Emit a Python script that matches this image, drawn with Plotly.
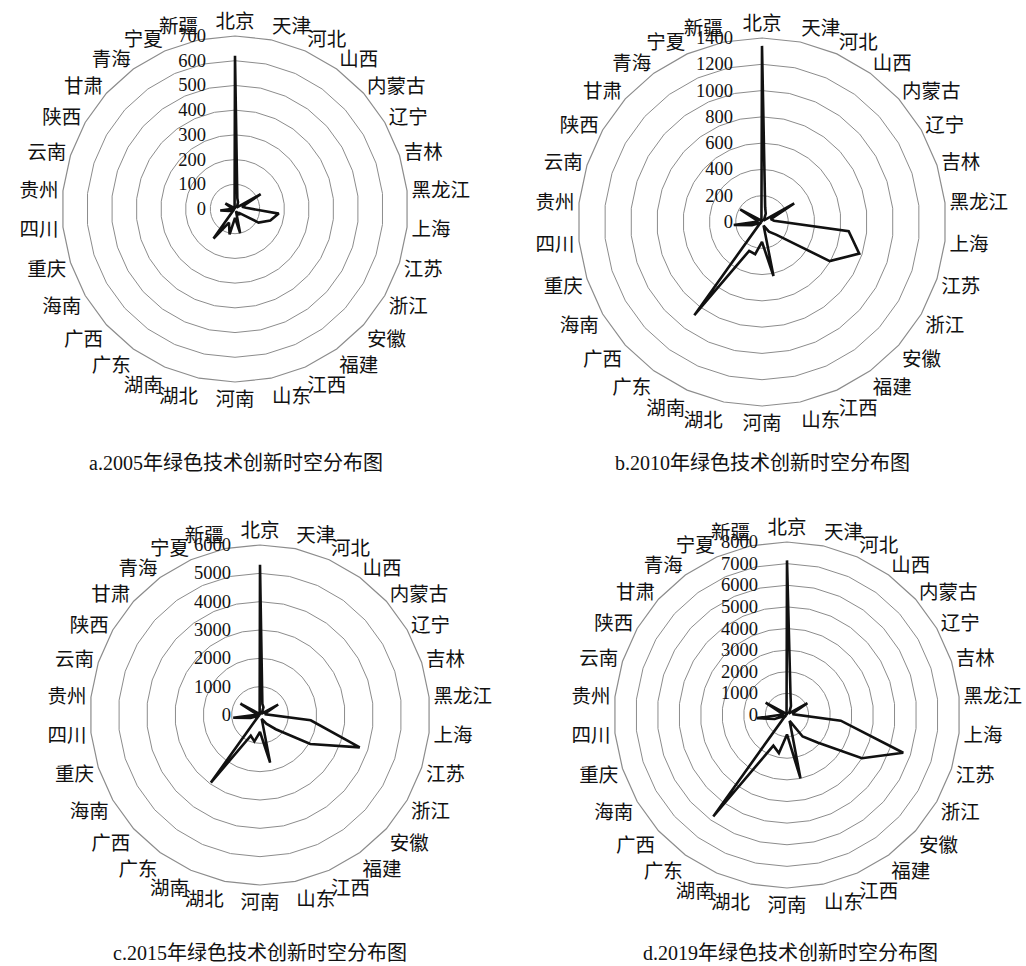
import plotly.graph_objects as go

# Provinces in clockwise order starting at the top
provinces = ["北京", "天津", "河北", "山西", "内蒙古", "辽宁", "吉林", "黑龙江", "上海", "江苏",
             "浙江", "安徽", "福建", "江西", "山东", "河南", "湖北", "湖南", "广东", "广西",
             "海南", "重庆", "四川", "贵州", "云南", "陕西", "甘肃", "青海", "宁夏", "新疆"]

# Green technology innovation counts by province
gti_2005 = [620, 45, 30, 15, 8, 120, 30, 45, 178, 150, 110, 25, 30, 10, 100,
            36, 105, 60, 148, 10, 3, 25, 60, 10, 15, 45, 10, 3, 3, 8]
gti_2010 = [1340, 115, 70, 30, 15, 283, 70, 92, 663, 778, 595, 144, 90, 30, 421,
            152, 250, 240, 876, 30, 8, 80, 216, 30, 40, 192, 30, 5, 5, 20]
gti_2015 = [5300, 400, 300, 120, 60, 740, 200, 200, 1800, 3700, 2050, 750, 380, 150, 1720,
            600, 950, 800, 2950, 100, 30, 350, 950, 100, 150, 800, 100, 20, 20, 60]
gti_2019 = [7150, 800, 450, 200, 100, 1090, 300, 300, 2500, 5650, 4000, 1900, 1230, 300, 3000,
            900, 1800, 1550, 5800, 200, 50, 600, 1400, 200, 250, 1140, 150, 30, 30, 100]

radial_max = [700, 1400, 6000, 8000]
radial_step = [100, 200, 1000, 1000]
captions = ["a.2005年绿色技术创新时空分布图", "b.2010年绿色技术创新时空分布图",
            "c.2015年绿色技术创新时空分布图", "d.2019年绿色技术创新时空分布图"]

FONT = "Liberation Serif, Noto Sans CJK SC, serif"
W, H = 1026, 966

# (center x, center y, radius) of each radar, in pixels
panels = [(235, 209, 173), (762, 222, 184), (260, 715, 170), (787, 715, 173)]
caption_pos = [(236, 463), (762, 463), (260, 953), (790, 953)]

series = [gti_2005, gti_2010, gti_2015, gti_2019]

fig = go.Figure()
layout_polars = {}
for i, vals in enumerate(series):
    name = "polar" if i == 0 else f"polar{i+1}"
    fig.add_trace(go.Scatterpolar(
        r=vals + vals[:1],
        theta=provinces + provinces[:1],
        mode="lines",
        line=dict(color="#111111", width=2.6),
        subplot=name,
        showlegend=False,
        hoverinfo="r+theta",
    ))
    cx, cy, R = panels[i]
    layout_polars[name] = dict(
        domain=dict(x=[(cx - R) / W, (cx + R) / W], y=[1 - (cy + R) / H, 1 - (cy - R) / H]),
        bgcolor="white",
        gridshape="linear",
        angularaxis=dict(
            rotation=90, direction="clockwise",
            showgrid=False, showline=True, linecolor="#8c8c8c", linewidth=1.2,
            ticks="", tickfont=dict(size=19.5, family=FONT, color="#111111"),
        ),
        radialaxis=dict(
            range=[0, radial_max[i]], dtick=radial_step[i], angle=90,
            showline=False, gridcolor="#8c8c8c", gridwidth=1.2,
            ticks="outside", ticklen=22, tickcolor="rgba(0,0,0,0)",
            side="counterclockwise", tickangle=90,
            tickfont=dict(size=18.5, family=FONT, color="#111111"),
        ),
    )

annotations = []
for (x, y), text in zip(caption_pos, captions):
    annotations.append(dict(
        text=text, x=x / W, y=1 - y / H, xref="paper", yref="paper",
        showarrow=False, xanchor="center", yanchor="middle",
        font=dict(size=20, family=FONT, color="#111111"),
    ))

fig.update_layout(
    width=W, height=H,
    margin=dict(l=0, r=0, t=0, b=0),
    paper_bgcolor="white", plot_bgcolor="white",
    annotations=annotations,
    **layout_polars,
)

fig.write_html("out.html")
